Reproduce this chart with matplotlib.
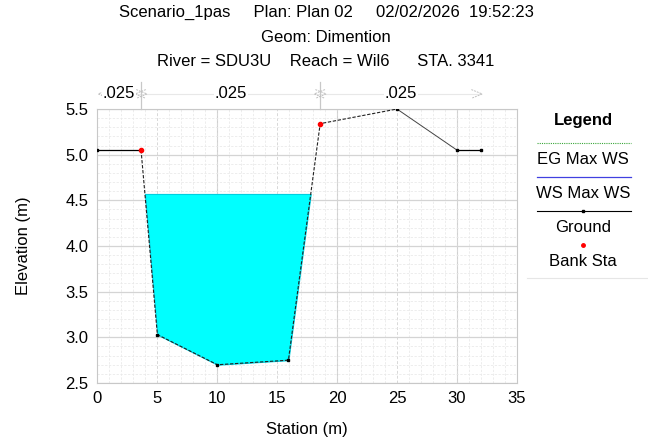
import matplotlib
matplotlib.use("Agg")
import matplotlib.pyplot as plt
from matplotlib.transforms import blended_transform_factory
import numpy as np

plt.rcParams["font.family"] = ["Liberation Sans", "DejaVu Sans"]

# cross-section STA. 3341
station = [0.0, 3.67, 5.03, 10.03, 15.95, 18.6, 25.0, 30.0, 32.0]
elevation = [5.05, 5.05, 3.03, 2.70, 2.75, 5.34, 5.50, 5.05, 5.05]
bank_sta = [3.67, 18.6]
ws_elev = 4.57
n_bounds = [0.0, 3.67, 18.6, 32.0]
n_values = [".025", ".025", ".025"]

title_lines = ["Scenario_1pas     Plan: Plan 02     02/02/2026  19:52:23",
               "Geom: Dimention",
               "River = SDU3U    Reach = Wil6      STA. 3341"]

FS = 12

fig = plt.figure(figsize=(6.48, 4.45), dpi=100)
ax = fig.add_axes([0.1497, 0.1393, 0.6481, 0.6157])

ax.set_xlim(0, 35)
ax.set_ylim(2.5, 5.5)
ax.set_xticks(np.arange(0, 36, 5))
ax.set_yticks(np.arange(2.5, 5.6, 0.5))
ax.set_yticklabels([f"{v:.1f}" for v in np.arange(2.5, 5.6, 0.5)])
ax.set_xticks(np.arange(0, 36, 1), minor=True)
ax.set_yticks(np.arange(2.5, 5.51, 0.1), minor=True)
ax.tick_params(which="both", length=0, labelsize=FS, colors="black")
ax.tick_params(axis="y", pad=6)
ax.tick_params(axis="x", pad=6)
ax.grid(which="minor", color="#e8e8e8", ls=(0, (3, 2)), lw=0.55)
ax.grid(which="major", axis="y", color="#d4d4d4", ls="-", lw=0.9)
ax.grid(which="major", axis="x", color="#d8d8d8", ls=(0, (3, 2)), lw=0.7)
for xv in (10, 20, 30):
    ax.axvline(xv, color="#d0d0d0", lw=0.8, zorder=0.5)
ax.set_axisbelow(True)
for s in ax.spines.values():
    s.set_color("#c8c8c8")
    s.set_linewidth(0.8)

# water surface fill in the channel
sta = np.array(station)
elv = np.array(elevation)
ax.fill_between(sta, elv, ws_elev, where=elv < ws_elev, interpolate=True,
                facecolor="#00ffff", edgecolor="#00d0e0", lw=0.8, zorder=2)

# ground line: solid overbanks, dashed through the channel
ax.plot(sta[:2], elv[:2], color="black", lw=0.9, zorder=3)
ax.plot(sta[1:7], elv[1:7], color="#222222", lw=0.8, ls=(0, (3, 1.5)),
        zorder=3)
ax.plot(sta[6:8], elv[6:8], color="#444444", lw=0.7, zorder=3)
ax.plot(sta[7:], elv[7:], color="black", lw=0.9, zorder=3)
ax.plot(sta, elv, ls="none", marker="s", ms=1.8, color="black", zorder=4)
bank_elev = [elevation[station.index(b)] for b in bank_sta]
ax.plot(bank_sta, bank_elev, ls="none", marker="o", ms=3, color="red",
        zorder=5)

# Manning's n strip above the plot
tr = blended_transform_factory(ax.transData, ax.transAxes)
y_n = 1.055
ax.plot([n_bounds[0] + 0.3, n_bounds[-1]], [y_n, y_n], color="#e8e8e8",
        lw=0.8, transform=tr, clip_on=False)
for b in bank_sta:
    ax.plot([b, b], [1.0, 1.1], color="#c8c8c8", lw=0.9, transform=tr,
            clip_on=False)
dy = 0.016
def chevron(tip, direction):
    ax.plot([tip - direction * 0.9, tip, tip - direction * 0.9],
            [y_n + dy, y_n, y_n - dy], color="#c0c0c0", lw=0.7,
            ls=(0, (2, 1)), transform=tr, clip_on=False)
chevron(n_bounds[0] + 0.1, -1)
chevron(n_bounds[-1] + 0.1, 1)
for b in bank_sta:
    chevron(b + 0.5, 1)
    chevron(b - 0.5, -1)
for lo, hi, nv in zip(n_bounds[:-1], n_bounds[1:], n_values):
    ax.text((lo + hi) / 2, y_n, nv, transform=tr, ha="center", va="center",
            fontsize=FS, clip_on=False,
            bbox=dict(boxstyle="square,pad=0.05", fc="white", ec="none"))

ax.set_xlabel("Station (m)", fontsize=FS, labelpad=11)
ax.set_ylabel("Elevation (m)", fontsize=FS, labelpad=25)


def fy(py):
    return 1 - py / 445


for py, line in zip((12, 38, 62), title_lines):
    fig.text(0.503, fy(py), line, ha="center", va="center", fontsize=FS)

# legend panel
lx0, lx1, lxc = 537 / 648, 631 / 648, 583 / 648
fig.text(lxc, fy(120), "Legend", ha="center", va="center", fontsize=FS,
         fontweight="bold")
fig.add_artist(plt.Line2D([lx0, lx1], [fy(143), fy(143)], color="#3aa63a",
                          lw=0.8, ls=(0, (1, 1))))
fig.text(lxc, fy(160), "EG Max WS", ha="center", va="center", fontsize=FS)
fig.add_artist(plt.Line2D([lx0, lx1], [fy(177), fy(177)], color="#4040e0",
                          lw=0.9))
fig.text(lxc, fy(194), "WS Max WS", ha="center", va="center", fontsize=FS)
fig.add_artist(plt.Line2D([lx0, lx1], [fy(211), fy(211)], color="black",
                          lw=0.8))
fig.add_artist(plt.Line2D([lxc], [fy(211)], marker="s", ms=1.8, color="black"))
fig.text(lxc, fy(228), "Ground", ha="center", va="center", fontsize=FS)
fig.add_artist(plt.Line2D([lxc], [fy(245)], marker="o", ms=2.5, color="red"))
fig.text(lxc, fy(262), "Bank Sta", ha="center", va="center", fontsize=FS)
fig.add_artist(plt.Line2D([527 / 648, 1.0], [fy(278), fy(278)],
                          color="#e6e6e6", lw=0.8))

fig.savefig("out.png", dpi=100)
